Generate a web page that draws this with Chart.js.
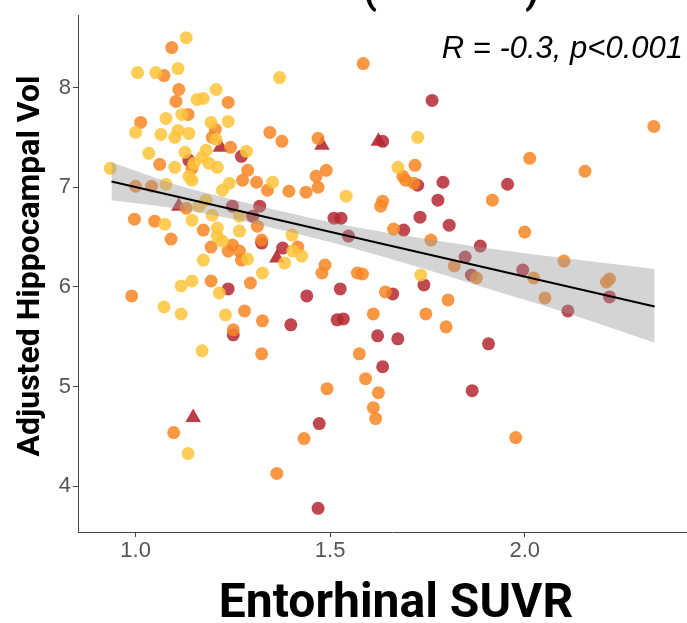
<!DOCTYPE html>
<html>
<head>
<meta charset="utf-8">
<script src="https://cdn.jsdelivr.net/npm/chart.js@4.4.0/dist/chart.umd.min.js"></script>
<style>
  html, body { margin: 0; padding: 0; background: #fff; overflow: hidden; }
  canvas { display: block; }
</style>
</head>
<body>
<!-- the panel runs a little past the right edge of the window -->
<canvas id="hippoChart" width="715" height="623"></canvas>
<script>
// entorhinal SUVR (x) against adjusted hippocampal volume (y), one pair of arrays per group
const yellowX = [1.130, 1.005, 1.052, 1.109, 1.207, 1.158, 1.174, 1.078, 1.119, 1.194, 1.238, 1.000, 1.065, 1.101, 1.109, 1.137,
  1.207, 1.370, 1.034, 1.127, 1.181, 1.171, 1.285, 1.150, 1.101, 1.189, 1.210, 0.935, 1.137, 1.145, 1.241, 1.352,
  1.223, 1.078, 1.181, 1.163, 1.197, 1.267, 1.402, 1.075, 1.145, 1.210, 1.267, 1.210, 1.223, 1.288, 1.174, 1.326,
  1.404, 1.427, 1.383, 1.145, 1.215, 1.117, 1.073, 1.117, 1.231, 1.171, 1.135, 1.725, 1.674, 1.541, 1.733];
const yellowY = [8.50, 8.15, 8.15, 8.19, 7.98, 7.88, 7.89, 7.69, 7.73, 7.65, 7.66, 7.55, 7.53, 7.50, 7.57, 7.54,
  7.48, 8.10, 7.34, 7.35, 7.37, 7.30, 7.36, 7.24, 7.20, 7.24, 7.20, 7.19, 7.11, 7.07, 7.04, 7.05,
  6.97, 7.03, 6.87, 6.81, 6.72, 6.71, 6.52, 6.63, 6.67, 6.59, 6.56, 6.51, 6.46, 6.28, 6.27, 6.14,
  6.36, 6.31, 6.24, 6.06, 5.94, 6.01, 5.80, 5.73, 5.72, 5.36, 4.33, 7.50, 7.20, 6.91, 6.12];

const orangeX = [1.093, 1.073, 1.111, 1.104, 1.238, 1.135, 1.013, 1.205, 1.197, 1.345, 1.244, 1.062, 1.145, 1.288, 1.275, 1.311,
  1.339, 1.000, 1.041, 1.130, 0.997, 1.049, 1.174, 1.313, 1.324, 1.091, 1.249, 1.194, 1.238, 1.267, 1.272, 0.990,
  1.194, 1.295, 1.280, 1.326, 1.251, 1.324, 1.098, 1.363, 1.585, 1.376, 1.469, 1.718, 1.490, 1.464, 1.469, 1.394,
  1.438, 1.687, 1.694, 1.715, 1.635, 1.630, 1.663, 1.759, 1.417, 1.487, 1.479, 1.570, 1.583, 1.642, 1.803, 1.611,
  1.746, 1.798, 1.575, 1.591, 1.492, 1.624, 1.611, 1.617, 1.433, 1.819, 1.876, 2.023, 2.101, 2.218, 2.210, 2.052,
  2.332, 2.013, 2.155, 1.917, 2.000, 1.977];
const orangeY = [8.40, 8.12, 7.98, 7.86, 7.85, 7.73, 7.65, 7.58, 7.50, 7.55, 7.40, 7.23, 7.19, 7.17, 7.07, 7.05,
  6.97, 7.01, 7.01, 6.79, 6.68, 6.66, 6.57, 6.61, 6.47, 6.48, 6.42, 6.40, 6.36, 6.36, 6.27, 5.91,
  6.06, 6.04, 5.76, 5.66, 5.57, 5.33, 4.54, 4.13, 8.24, 7.46, 7.49, 7.22, 7.17, 7.11, 7.00, 6.96,
  6.95, 7.11, 7.07, 7.04, 6.86, 6.81, 6.58, 6.47, 6.40, 6.22, 6.14, 6.14, 6.13, 5.95, 5.87, 5.73,
  5.73, 5.60, 5.33, 5.08, 4.98, 4.94, 4.79, 4.68, 4.48, 6.21, 6.09, 6.09, 6.26, 6.08, 6.05, 5.89,
  7.61, 7.29, 7.16, 6.87, 6.55, 4.49];

const redX = [1.272, 1.137, 1.249, 1.301, 1.319, 1.324, 1.238, 1.251, 1.762, 1.635, 1.725, 1.790, 1.777, 1.510, 1.528, 1.731,
  1.806, 1.689, 1.547, 1.378, 1.741, 1.847, 1.863, 1.526, 1.440, 1.661, 1.399, 1.518, 1.534, 1.622, 1.674, 1.635,
  1.472, 1.469, 1.956, 1.886, 1.995, 2.218, 2.111, 1.907, 1.865];
const redY = [7.31, 7.27, 6.81, 6.71, 6.81, 6.44, 5.98, 5.52, 7.87, 7.46, 7.02, 7.05, 6.87, 6.69, 6.69, 6.70,
  6.62, 6.57, 6.51, 6.39, 6.02, 6.30, 6.12, 5.98, 5.91, 5.93, 5.62, 5.67, 5.68, 5.51, 5.48, 5.20,
  4.63, 3.78, 7.03, 6.41, 6.17, 5.90, 5.76, 5.43, 4.96];

// triangle markers
const triX = [1.218, 1.111, 1.363, 1.479, 1.624, 1.148];
const triY = [7.40, 6.81, 6.29, 7.42, 7.46, 4.69];

// linear fit and its confidence band
const fitX = [0.938, 2.334];
const fitY = [7.057, 5.805];
const bandX = [0.938, 1.1, 1.3, 1.5, 1.7, 1.9, 2.1, 2.334];
const bandHi = [7.25, 7.03, 6.83, 6.65, 6.51, 6.39, 6.29, 6.18];
const bandLo = [6.87, 6.79, 6.64, 6.45, 6.23, 5.99, 5.75, 5.44];

const xTicks = [1.0, 1.5, 2.0];
const yTicks = [4, 5, 6, 7, 8];
const xTitle = 'Entorhinal SUVR';
const yTitle = 'Adjusted Hippocampal Vol';
const statText = 'R = -0.3, p<0.001';

const pairs = (xs, ys) => xs.map((x, i) => ({ x: x, y: ys[i] }));

// axis titles, the R/p note and the clipped heading
const textLayer = {
  id: 'textLayer',
  afterDraw(chart) {
    const ctx = chart.ctx;
    ctx.save();
    ctx.fillStyle = '#000';

    ctx.font = 'italic 31px "Liberation Sans"';
    ctx.textAlign = 'right';
    ctx.textBaseline = 'alphabetic';
    ctx.fillText(statText, 683, 58);

    ctx.font = 'bold 48px Roboto';
    ctx.textAlign = 'center';
    ctx.fillText(xTitle, 396, 617);

    ctx.save();
    ctx.translate(31, 266);
    ctx.rotate(-Math.PI / 2);
    ctx.font = 'bold 32px Roboto';
    ctx.textBaseline = 'middle';
    ctx.fillText(yTitle, 0, 0);
    ctx.restore();

    ctx.font = 'bold 40px Roboto';
    ctx.textBaseline = 'alphabetic';
    ctx.fillText('(', 370, 3);
    ctx.fillText(')', 532, 3);
    ctx.restore();
  }
};

const dotStyle = (color) => ({
  type: 'scatter',
  backgroundColor: color,
  borderWidth: 0,
  pointRadius: 6.5,
  pointHoverRadius: 6.5,
  order: 3
});

const ctx = document.getElementById('hippoChart').getContext('2d');
const hippoChart = new Chart(ctx, {
  data: {
    datasets: [
      Object.assign(dotStyle('rgba(254,196,58,0.85)'), { label: 'yellow', data: pairs(yellowX, yellowY) }),
      Object.assign(dotStyle('rgba(247,134,36,0.85)'), { label: 'orange', data: pairs(orangeX, orangeY) }),
      Object.assign(dotStyle('rgba(180,40,50,0.85)'), { label: 'red', data: pairs(redX, redY) }),
      Object.assign(dotStyle('rgba(180,40,50,0.9)'), { label: 'tri', data: pairs(triX, triY), pointStyle: 'triangle', pointRadius: 9 }),
      {
        type: 'line', label: 'lo', data: pairs(bandX, bandLo),
        borderWidth: 0, pointRadius: 0, fill: false, cubicInterpolationMode: 'monotone', order: 2
      },
      {
        type: 'line', label: 'hi', data: pairs(bandX, bandHi),
        borderWidth: 0, pointRadius: 0, fill: '-1', backgroundColor: 'rgba(153,153,153,0.42)',
        cubicInterpolationMode: 'monotone', order: 2
      },
      {
        type: 'line', label: 'fit', data: pairs(fitX, fitY),
        borderColor: '#000', borderWidth: 2, pointRadius: 0, fill: false, order: 1
      }
    ]
  },
  options: {
    responsive: false,
    animation: false,
    layout: { padding: { top: 10, right: 0, bottom: 0, left: 0 } },
    plugins: { legend: { display: false }, tooltip: { enabled: false } },
    scales: {
      x: {
        type: 'linear',
        min: 0.852,
        max: 2.466,
        afterBuildTicks: (s) => { s.ticks = xTicks.map(v => ({ value: v })); },
        afterFit: (s) => { s.height = 91; },
        ticks: {
          callback: (v) => v.toFixed(1),
          color: '#555',
          font: { family: 'Liberation Sans', size: 22 },
          padding: 1
        },
        grid: { drawOnChartArea: false, tickLength: 5, tickColor: '#444' },
        border: { color: '#444', width: 1 }
      },
      y: {
        type: 'linear',
        min: 3.543,
        max: 8.725,
        afterBuildTicks: (s) => { s.ticks = yTicks.map(v => ({ value: v })); },
        afterFit: (s) => { s.width = 78; },
        ticks: {
          color: '#555',
          font: { family: 'Liberation Sans', size: 22 },
          padding: 2
        },
        grid: { drawOnChartArea: false, tickLength: 5, tickColor: '#444' },
        border: { color: '#444', width: 1 }
      }
    }
  },
  plugins: [textLayer]
});
</script>
</body>
</html>
